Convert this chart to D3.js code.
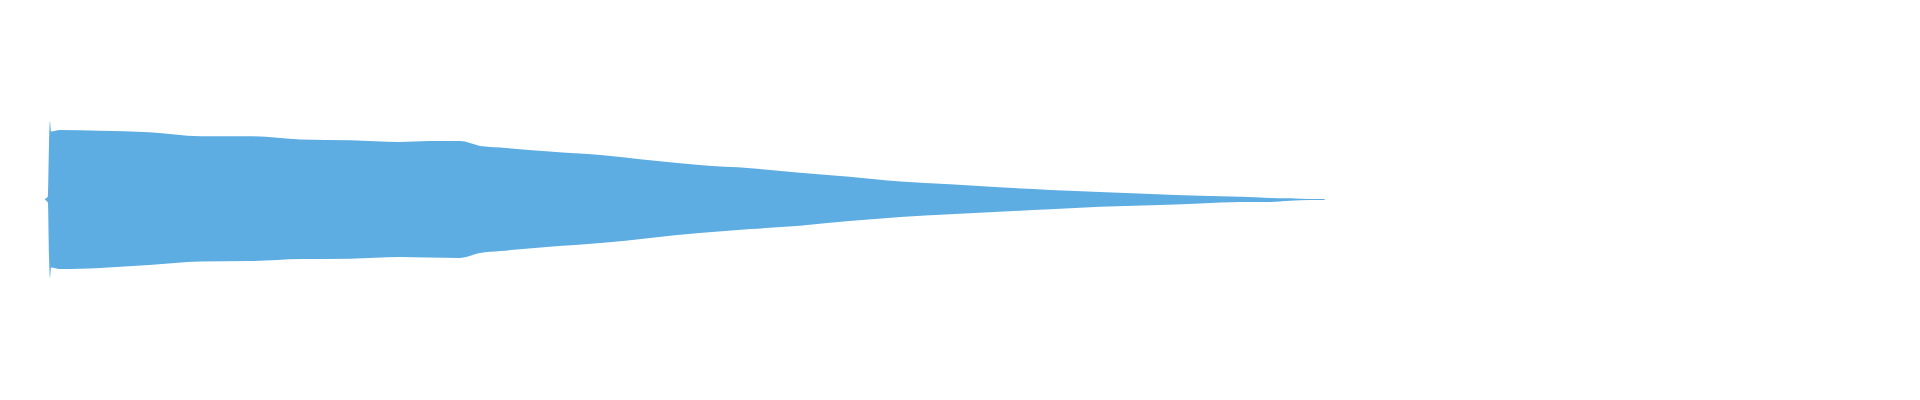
<!DOCTYPE html>
<html>
<head>
<meta charset="utf-8">
<script src="https://cdn.jsdelivr.net/npm/d3@7"></script>
<style>
  html, body { margin: 0; padding: 0; background: #fff; }
</style>
</head>
<body>
<div id="waveform"></div>
<script>
// peak envelope of the clip
// times in seconds, amplitudes normalised to -1..1
const times = [0, 0.016, 0.022, 0.027, 0.033, 0.08, 0.3, 0.57, 0.85, 1.12, 1.4, 1.67, 1.94, 2.1,
  2.27, 2.38, 2.49, 2.76, 3.04, 3.31, 3.58, 3.86, 4.13, 4.4, 4.68, 4.95, 5.22, 5.5, 5.77,
  6.05, 6.32, 6.54, 6.7, 6.81, 6.92, 7.0];
const maxPeaks = [0.006, 0.04, 0.7, 0.98, 0.85, 0.87, 0.86, 0.84, 0.79, 0.79, 0.75, 0.74, 0.72, 0.73,
  0.73, 0.67, 0.65, 0.6, 0.556, 0.49, 0.43, 0.39, 0.335, 0.285, 0.225, 0.19, 0.152, 0.12, 0.094,
  0.07, 0.046, 0.035, 0.02, 0.015, 0.006, 0.006];
const minPeaks = [-0.006, -0.04, -0.71, -0.98, -0.85, -0.87, -0.855, -0.82, -0.775, -0.77, -0.745, -0.74, -0.72, -0.725,
  -0.73, -0.67, -0.645, -0.59, -0.544, -0.48, -0.42, -0.37, -0.3275, -0.27, -0.22, -0.185, -0.152, -0.123, -0.09,
  -0.073, -0.05, -0.031, -0.031, -0.015, -0.006, -0.006];
const timeline = [0, 10]; // seconds shown across the view

const width = 1920;
const height = 400;
const margin = {top: 119.5, right: 47, bottom: 120.5, left: 45};

const data = times.map((t, i) => ({t, max: maxPeaks[i], min: minPeaks[i]}));

const x = d3.scaleLinear()
    .domain(timeline)
    .range([margin.left, width - margin.right]);

const y = d3.scaleLinear()
    .domain([-1, 1])
    .range([height - margin.bottom, margin.top]);

const svg = d3.select("#waveform")
  .append("svg")
    .attr("width", width)
    .attr("height", height)
    .style("display", "block");

const area = d3.area()
    .x(d => x(d.t))
    .y0(d => y(d.min))
    .y1(d => y(d.max))
    .curve(d3.curveMonotoneX);

svg.append("path")
    .datum(data)
    .attr("class", "wave")
    .attr("fill", "#5dade2")
    .attr("d", area);
</script>
</body>
</html>
